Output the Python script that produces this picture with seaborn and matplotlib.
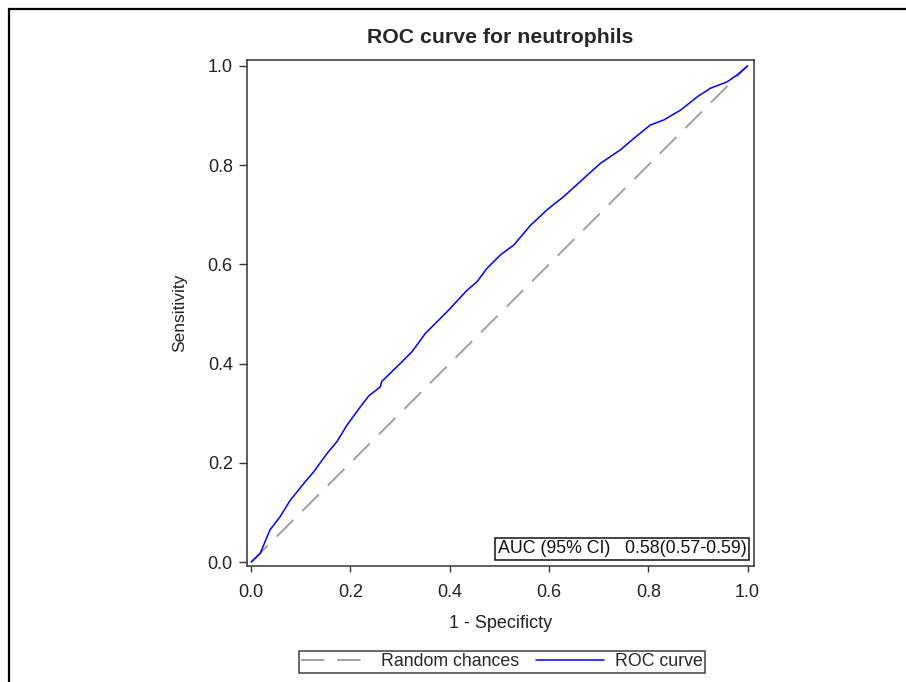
import matplotlib
matplotlib.use("Agg")
import matplotlib.pyplot as plt
import matplotlib.patches as mpatches
import seaborn as sns
import pandas as pd

# ROC points
roc_fpr = [0.0, 0.018, 0.038, 0.058, 0.079, 0.109, 0.126, 0.153, 0.173, 0.193,
           0.220, 0.237, 0.260, 0.263, 0.297, 0.324, 0.351, 0.371, 0.395, 0.435,
           0.455, 0.475, 0.502, 0.529, 0.563, 0.596, 0.630, 0.663, 0.704, 0.744,
           0.771, 0.804, 0.831, 0.865, 0.899, 0.925, 0.959, 0.979, 1.0]
roc_tpr = [0.0, 0.017, 0.065, 0.091, 0.125, 0.162, 0.182, 0.219, 0.243, 0.276,
           0.313, 0.335, 0.353, 0.364, 0.397, 0.424, 0.461, 0.481, 0.505, 0.548,
           0.565, 0.592, 0.619, 0.639, 0.679, 0.710, 0.737, 0.767, 0.804, 0.831,
           0.854, 0.881, 0.891, 0.911, 0.938, 0.955, 0.968, 0.982, 1.0]
chance_x = [0.0, 1.0]
chance_y = [0.0, 1.0]
ticks = [0.0, 0.2, 0.4, 0.6, 0.8, 1.0]
tick_labels = ["0.0", "0.2", "0.4", "0.6", "0.8", "1.0"]
auc_text = "AUC (95% CI)   0.58(0.57-0.59)"

sns.set_style("white")
plt.rcParams["font.family"] = ["Liberation Sans", "DejaVu Sans"]

W, H = 906, 682
fig = plt.figure(figsize=(W / 100, H / 100), dpi=100)
ax = fig.add_axes([246.7 / W, 1 - 566 / H, (754 - 246.7) / W, (566 - 60) / H])

roc_df = pd.DataFrame({"fpr": roc_fpr, "tpr": roc_tpr})
diag_df = pd.DataFrame({"fpr": chance_x, "tpr": chance_y})

sns.lineplot(data=diag_df, x="fpr", y="tpr", ax=ax, color="#9a9a9a", lw=1.3,
             dashes=False, label="Random chances", sort=False)
ax.lines[-1].set_dashes((13, 7))
sns.lineplot(data=roc_df, x="fpr", y="tpr", ax=ax, color="#0000ff", lw=1.1,
             label="ROC curve", sort=False)

ax.set_xlim(-0.009, 1.013)
ax.set_ylim(-0.008, 1.012)
ax.set_xticks(ticks)
ax.set_xticklabels(tick_labels)
ax.set_yticks(ticks)
ax.set_yticklabels(tick_labels)
ax.tick_params(axis="both", direction="out", width=1, color="#333333",
               labelsize=13, labelcolor="#222222", bottom=True, left=True)
ax.tick_params(axis="x", length=4.5, pad=8.5)
ax.tick_params(axis="y", length=6, pad=4)
for s in ax.spines.values():
    s.set_color("#333333")
    s.set_linewidth(1.1)

ax.set_xlabel("1 - Specificty", fontsize=13, color="#222222", labelpad=10)
ax.set_ylabel("Sensitivity", fontsize=12.5, color="#222222", labelpad=15)
ax.set_title("ROC curve for neutrophils", fontsize=15.3, fontweight="bold", pad=12)

ax.text(0.985, 0.0172, auc_text, transform=ax.transAxes, ha="right", va="bottom",
        fontsize=12.8, color="#111111",
        bbox=dict(boxstyle="square,pad=0.15", fc="white", ec="#111111", lw=1.1))

handles, labels = ax.get_legend_handles_labels()
ax.get_legend().remove()
leg = fig.legend(handles, labels, loc="lower center", bbox_to_anchor=(502 / W, 9 / H),
                 ncol=2, frameon=True, fancybox=False, fontsize=12.8,
                 handlelength=3.85, handletextpad=0.6, columnspacing=0.95,
                 borderpad=0.15, borderaxespad=0)
leg.get_frame().set_edgecolor("#111111")
leg.get_frame().set_linewidth(1.1)

# outer frame, only top and left edges visible in the picture
fig.patches.append(mpatches.Rectangle((8.5 / W, -0.2), 2, 1.2 - 8.5 / H,
                                      transform=fig.transFigure, fill=False,
                                      ec="black", lw=1.6))

fig.savefig("out.png", dpi=100)
